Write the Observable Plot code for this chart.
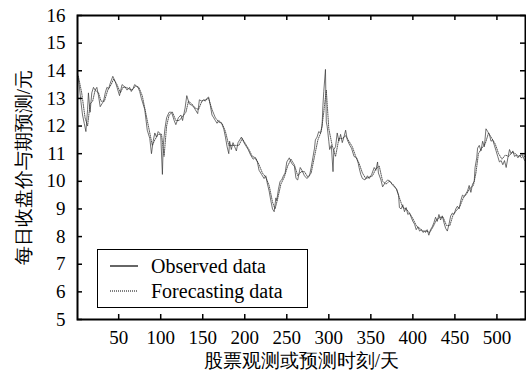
<!DOCTYPE html>
<html>
<head>
<meta charset="utf-8">
<script src="https://cdn.jsdelivr.net/npm/d3@7"></script>
<script src="https://cdn.jsdelivr.net/npm/@observablehq/plot@0.6"></script>
<style>
  html, body { margin: 0; padding: 0; background: #fff; }
  #wrap { position: relative; width: 526px; height: 372px; overflow: hidden; }
  #chart svg, #chart svg text { font-family: "Liberation Serif", "Times New Roman", Times, serif !important; }
  #legend { position: absolute; left: 97px; top: 249px; width: 209px; height: 57px;
    border: 1.6px solid #000; background: #fff; font-family: "Liberation Serif", "Times New Roman", Times, serif; font-size: 20px; color: #000; }
  .row { position: absolute; left: 12px; height: 22px; display: flex; align-items: center; }
  .row svg { width: 28px; height: 6px; margin-right: 13px; }
</style>
</head>
<body>
<div id="wrap">
  <div id="chart"></div>
  <div id="legend">
    <div class="row" style="top:5px"><svg><line x1="0" y1="3" x2="28" y2="3" stroke="#000" stroke-width="1.2"/></svg><span id="l1"></span></div>
    <div class="row" style="top:30px"><svg><line x1="0" y1="3" x2="28" y2="3" stroke="#000" stroke-width="1" stroke-dasharray="1,1"/></svg><span id="l2"></span></div>
  </div>
</div>
<script>
const seriesNames = ["Observed data", "Forecasting data"];
const xLabel = "股票观测或预测时刻/天";
const yLabel = "每日收盘价与期预测/元";
const xTicks = [50, 100, 150, 200, 250, 300, 350, 400, 450, 500];
const yTicks = [5, 6, 7, 8, 9, 10, 11, 12, 13, 14, 15, 16];

const obsDay = [1,3,5,7,9,11,13,14,16,18,20,22,24,26,28,30,32,34,36,38,40,43,46,48,51,54,56,58,60,63,65,67,69,71,73,75,77,79,81,84,87,89,91,93,95,97,100,102,103,105,107,110,113,116,118,121,124,126,129,131,134,137,139,141,144,146,149,151,153,155,157,159,161,163,165,167,169,171,173,175,177,179,181,182,184,186,188,190,192,194,196,199,202,204,207,210,212,215,217,220,223,225,227,229,231,233,235,237,238,240,242,244,246,248,250,253,255,257,259,261,263,266,268,271,274,277,279,281,283,284,286,288,290,292,293,294,296,297,298,300,301,303,305,306,308,310,312,314,316,318,320,322,325,327,330,333,335,336,338,340,343,346,348,351,354,356,358,359,362,364,367,370,373,375,378,381,383,384,386,388,390,392,394,396,398,400,402,404,406,408,410,412,414,415,417,419,421,423,425,427,429,431,433,435,437,439,441,443,445,447,449,451,453,455,457,459,461,463,465,467,469,471,473,474,476,477,479,481,483,485,487,489,491,493,495,497,499,501,503,505,507,509,511,513,515,517,519,521,523,525,527,529,531,533];
const obsVal = [13.9,13.5,12.9,12.4,12.1,11.8,12.6,13.2,12.5,13.2,13.4,13.3,13.4,13.1,12.7,12.8,12.9,13.2,13.4,13.35,13.55,13.8,13.6,13.4,13.1,13.5,13.45,13.4,13.3,13.4,13.25,13.35,13.5,13.45,13.4,13.25,13.0,12.8,12.6,11.85,11.55,11.0,11.45,11.75,11.6,11.8,11.7,10.25,11.3,11.9,12.3,12.5,12.5,12.2,12.05,12.3,12.4,12.2,12.65,13.1,12.8,12.75,12.7,12.6,12.45,12.95,12.9,12.95,12.9,13.0,13.05,12.75,12.4,12.3,12.2,12.1,12.2,12.15,12.05,11.9,11.6,11.25,11.0,11.45,11.15,11.4,11.25,11.1,11.4,11.5,11.6,11.4,11.25,11.15,10.95,10.8,10.85,10.7,10.4,10.25,10.1,10.2,9.9,9.65,9.3,9.0,8.9,9.4,9.3,9.7,10.0,10.05,10.2,10.3,10.7,10.85,10.7,10.6,10.55,10.1,10.05,10.5,10.4,10.2,10.1,10.2,10.5,10.85,11.2,11.5,11.6,11.8,11.75,12.0,12.75,13.25,14.05,12.15,12.0,11.45,11.15,11.3,10.35,11.15,11.25,11.75,11.45,11.7,11.4,11.6,11.85,11.5,11.3,11.2,10.9,10.85,10.65,10.5,10.25,10.1,10.05,10.2,10.1,10.25,10.5,10.4,10.7,10.3,10.05,9.8,9.95,10.05,10.0,9.9,9.8,9.7,9.5,9.05,9.0,9.15,8.9,9.05,8.8,8.85,8.7,8.55,8.45,8.25,8.35,8.2,8.25,8.15,8.2,8.15,8.25,8.05,8.25,8.35,8.5,8.7,8.55,8.8,8.6,8.75,8.5,8.3,8.2,8.45,8.75,8.85,8.8,9.0,9.1,9.0,9.3,9.5,9.45,9.55,9.65,9.85,9.6,9.9,10.0,10.5,10.85,11.2,11.3,11.1,11.45,11.25,11.9,11.8,11.7,11.45,11.5,11.3,11.1,10.9,10.7,10.75,10.6,10.75,10.5,10.85,11.15,11.0,11.1,10.9,10.95,10.85,10.95,10.85,10.9,10.75];

const fcDay = [2,6,10,13,16,19,22,26,29,33,37,41,44,48,52,55,59,62,66,70,74,78,82,86,90,93,97,101,104,107,110,114,118,122,126,130,133,137,141,145,149,153,157,161,165,169,173,177,181,185,189,193,197,201,205,209,213,217,221,225,229,233,236,239,243,247,251,255,259,263,267,271,275,279,283,287,291,294,297,300,304,308,312,316,320,324,328,332,336,340,344,348,352,356,360,364,368,372,376,380,384,388,392,396,400,404,408,412,416,420,424,428,432,436,440,444,448,452,456,460,464,468,472,475,478,482,486,490,494,498,502,506,510,514,518,522,526,530,533];
const fcVal = [13.8,13.2,12.3,12.0,12.8,12.9,13.3,13.2,12.9,12.9,13.3,13.5,13.7,13.5,13.2,13.4,13.4,13.35,13.3,13.45,13.4,13.1,12.5,11.9,11.3,11.5,11.7,11.7,10.9,12.0,12.4,12.5,12.2,12.2,12.35,12.5,12.9,12.8,12.65,12.6,12.9,12.95,13.0,12.6,12.3,12.15,12.1,11.8,11.3,11.3,11.3,11.3,11.55,11.35,11.15,10.9,10.85,10.6,10.3,10.15,9.85,9.25,9.0,9.35,9.9,10.15,10.55,10.8,10.6,10.2,10.35,10.35,10.15,10.3,10.9,11.5,11.8,12.5,13.3,11.9,11.3,10.9,11.55,11.55,11.65,11.45,11.25,10.9,10.65,10.3,10.1,10.15,10.2,10.45,10.55,10.0,9.9,10.0,9.9,9.75,9.4,9.05,9.0,8.85,8.65,8.4,8.3,8.2,8.2,8.15,8.35,8.6,8.7,8.7,8.4,8.4,8.8,8.95,9.1,9.4,9.55,9.75,9.85,10.3,11.0,11.2,11.35,11.75,11.55,11.35,11.0,10.8,10.95,10.9,11.05,11.0,10.9,10.95,10.9];

const obs = obsDay.map((d, i) => ({day: d, value: obsVal[i]}));
const fc = fcDay.map((d, i) => ({day: d, value: fcVal[i]}));

document.getElementById("l1").textContent = seriesNames[0];
document.getElementById("l2").textContent = seriesNames[1];

const W = 526, H = 372, mL = 77, mR = 1, mT = 15, mB = 53;
const pw = W - mL - mR, ph = H - mT - mB, tk = 5;

const chart = Plot.plot({
  width: W, height: H,
  marginLeft: mL, marginRight: mR, marginTop: mT, marginBottom: mB,
  style: {fontSize: "18px", color: "#000", background: "#fff"},
  x: {domain: [1, 534]},
  y: {domain: [5, 16]},
  marks: [
    Plot.line(fc, {x: "day", y: "value", stroke: "#444", strokeWidth: 0.9, strokeDasharray: "1,1.2"}),
    Plot.line(obs, {x: "day", y: "value", stroke: "#333", strokeWidth: 0.7}),
    Plot.ruleX(xTicks, {x: d => d, insetTop: ph - tk, stroke: "#000", strokeWidth: 1.5}),
    Plot.ruleX(xTicks, {x: d => d, insetBottom: ph - tk, stroke: "#000", strokeWidth: 1.5}),
    Plot.ruleY(yTicks, {y: d => d, insetRight: pw - tk, stroke: "#000", strokeWidth: 1.5}),
    Plot.ruleY(yTicks, {y: d => d, insetLeft: pw - tk, stroke: "#000", strokeWidth: 1.5}),
    Plot.frame({stroke: "#000", strokeWidth: 2}),
    Plot.axisX({ticks: xTicks, tickSize: 0, tickPadding: 11, label: null, fontSize: 19}),
    Plot.axisY({ticks: yTicks, tickSize: 0, tickPadding: 12, label: null, fontSize: 19}),
    Plot.text([xLabel], {text: d => d, frameAnchor: "bottom", dy: 47, fontSize: 19, fill: "#000"}),
    Plot.text([yLabel], {text: d => d, frameAnchor: "left", textAnchor: "middle", dx: -54, rotate: -90, fontSize: 19, fill: "#000"})
  ]
});
document.getElementById("chart").appendChild(chart);
</script>
</body>
</html>
